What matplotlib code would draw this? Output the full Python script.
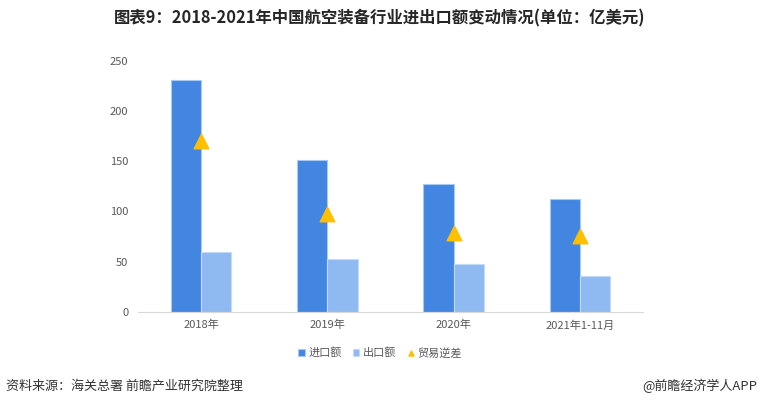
import matplotlib.pyplot as plt
import numpy as np

plt.rcParams['font.family'] = ['Noto Sans CJK SC', 'DejaVu Sans']

# chart data (unit: 亿美元)
categories = ['2018年', '2019年', '2020年', '2021年1-11月']
imports = [231, 151, 127, 112]
exports = [60, 53, 48, 36]
deficit = [170, 97, 79, 76]
yticks = [0, 50, 100, 150, 200, 250]

fig = plt.figure(figsize=(7.6, 4.07), dpi=100)
ax = fig.add_axes([0.1816, 0.234, 0.6645, 0.616])

x = np.arange(len(categories))
w = 0.24
b1 = ax.bar(x - w / 2, imports, width=w, color='#4286E1', edgecolor='#A9C8F2',
            linewidth=0.8, label='进口额', zorder=2)
b2 = ax.bar(x + w / 2, exports, width=w, color='#8FB9F1', edgecolor='#C5DAF7',
            linewidth=0.8, label='出口额', zorder=2)
s1 = ax.scatter(x, deficit, marker='^', s=110, color='#FFC000', label='贸易逆差', zorder=3)

ax.set_xlim(-0.5, len(categories) - 0.5)
ax.set_ylim(0, 250)
ax.set_yticks(yticks)
ax.set_xticks(x)
ax.set_xticklabels(categories)
ax.tick_params(axis='both', length=0, labelsize=8, colors='#595959')
ax.tick_params(axis='y', pad=7)
ax.tick_params(axis='x', pad=6)
for side in ['top', 'right', 'left']:
    ax.spines[side].set_visible(False)
ax.spines['bottom'].set_color('#D9D9D9')

fig.text(0.5, 0.955, '图表9：2018-2021年中国航空装备行业进出口额变动情况(单位：亿美元)',
         ha='center', va='center', fontsize=11.8, fontweight='bold', color='#262626')

leg = fig.legend([b1, b2, s1], ['进口额', '出口额', '贸易逆差'],
                 loc='center', bbox_to_anchor=(0.5, 0.133), ncol=3, frameon=False,
                 fontsize=8, handlelength=0.6, handletextpad=0.3, columnspacing=1.0,
                 markerscale=0.35)
for t in leg.get_texts():
    t.set_color('#595959')

fig.text(0.008, 0.052, '资料来源：海关总署 前瞻产业研究院整理', ha='left', va='center',
         fontsize=9.4, color='#333333')
fig.text(0.996, 0.052, '@前瞻经济学人APP', ha='right', va='center',
         fontsize=9.4, color='#333333')

fig.savefig('out.png', dpi=100)
